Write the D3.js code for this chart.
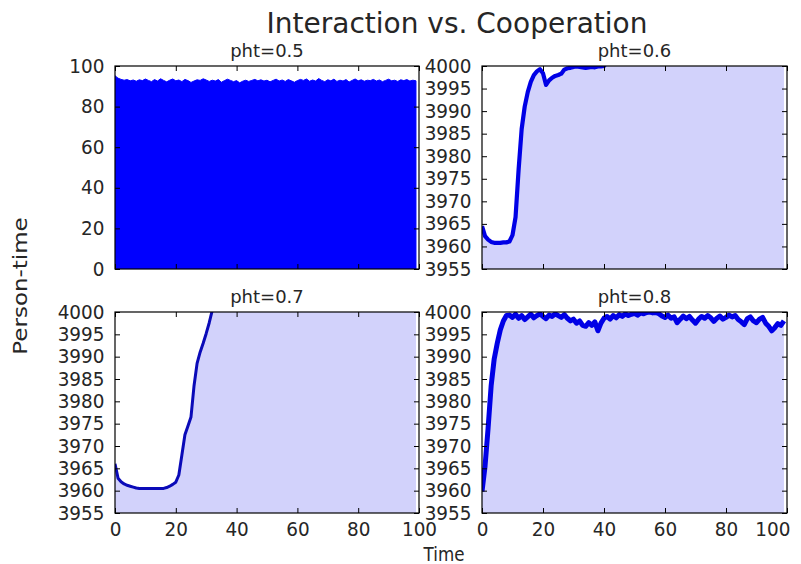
<!DOCTYPE html>
<html>
<head>
<meta charset="utf-8">
<script src="https://cdn.jsdelivr.net/npm/d3@7"></script>
<style>
  body { margin: 0; background: #fff; }
  text { font-family: "DejaVu Sans", sans-serif; fill: #262626; }
</style>
</head>
<body>
<svg id="chart" width="801" height="564"></svg>
<script>
// Time steps of the simulation
const time = d3.range(0, 100);

// Person-time per run, one array per pht setting
const pht05 = [
  95.2, 94.0, 93.4, 93.0, 93.3, 92.7, 93.1, 92.5, 93.2, 92.8,
  93.6, 92.9, 92.3, 93.3, 92.6, 93.7, 92.9, 92.2, 93.0, 93.6,
  92.7, 93.1, 92.3, 93.4, 92.8, 91.9, 92.6, 93.2, 92.9, 93.7,
  93.1, 92.4, 93.0, 92.6, 93.3, 92.0, 92.8, 93.5, 92.9, 92.3,
  92.8, 91.7, 92.5, 93.0, 92.4, 92.9, 93.4, 92.7, 93.2, 92.6,
  93.0, 92.2, 92.9, 93.5, 92.6, 93.1, 92.4, 93.3, 92.7, 92.0,
  92.8, 93.4, 92.9, 93.6, 92.5, 93.1, 92.6, 93.8, 92.9, 92.3,
  93.2, 92.7, 93.5, 92.4, 93.0, 92.6, 93.3, 92.1, 92.9, 93.6,
  92.7, 93.2, 92.5, 93.0, 92.8, 93.4, 92.6, 93.1, 92.3, 92.9,
  93.5, 92.7, 93.0, 92.4, 93.2, 92.8, 93.3, 92.6, 93.0, 92.7
];
const pht06 = [
  3964.5, 3962.3, 3961.5, 3961.0, 3960.8, 3960.8, 3960.8, 3960.9, 3960.9, 3961.1,
  3962.5, 3966.5, 3977.0, 3986.0, 3991.0, 3994.2, 3996.5, 3998.0, 3998.8, 3999.3,
  3998.4, 3995.8, 3996.8, 3997.4, 3997.8, 3998.0, 3998.3, 3999.2, 3999.5, 3999.6,
  3999.8, 3999.9, 3999.8, 3999.7, 3999.6, 3999.7, 3999.8, 3999.7, 3999.9, 3999.9,
  4000.0, 4001.0, 4001.0, 4001.0, 4001.0, 4001.0, 4001.0, 4001.0, 4001.0, 4001.0,
  4001.0, 4001.0, 4001.0, 4001.0, 4001.0, 4001.0, 4001.0, 4001.0, 4001.0, 4001.0,
  4001.0, 4001.0, 4001.0, 4001.0, 4001.0, 4001.0, 4001.0, 4001.0, 4001.0, 4001.0,
  4001.0, 4001.0, 4001.0, 4001.0, 4001.0, 4001.0, 4001.0, 4001.0, 4001.0, 4001.0,
  4001.0, 4001.0, 4001.0, 4001.0, 4001.0, 4001.0, 4001.0, 4001.0, 4001.0, 4001.0,
  4001.0, 4001.0, 4001.0, 4001.0, 4001.0, 4001.0, 4001.0, 4001.0, 4001.0, 4001.0
];
const pht07 = [
  3966.0, 3962.8, 3962.0, 3961.5, 3961.2, 3961.0, 3960.8, 3960.6, 3960.5, 3960.5,
  3960.5, 3960.5, 3960.5, 3960.5, 3960.5, 3960.5, 3960.5, 3960.7, 3961.0, 3961.4,
  3961.9, 3963.5, 3968.0, 3972.5, 3974.5, 3976.5, 3983.5, 3988.5, 3991.0, 3993.0,
  3995.2, 3997.6, 4000.4, 4002.0, 4002.0, 4002.0, 4002.0, 4002.0, 4002.0, 4002.0,
  4002.0, 4002.0, 4002.0, 4002.0, 4002.0, 4002.0, 4002.0, 4002.0, 4002.0, 4002.0,
  4002.0, 4002.0, 4002.0, 4002.0, 4002.0, 4002.0, 4002.0, 4002.0, 4002.0, 4002.0,
  4002.0, 4002.0, 4002.0, 4002.0, 4002.0, 4002.0, 4002.0, 4002.0, 4002.0, 4002.0,
  4002.0, 4002.0, 4002.0, 4002.0, 4002.0, 4002.0, 4002.0, 4002.0, 4002.0, 4002.0,
  4002.0, 4002.0, 4002.0, 4002.0, 4002.0, 4002.0, 4002.0, 4002.0, 4002.0, 4002.0,
  4002.0, 4002.0, 4002.0, 4002.0, 4002.0, 4002.0, 4002.0, 4002.0, 4002.0, 4002.0
];
const pht08 = [
  3959.8, 3965.5, 3974.0, 3983.5, 3989.5, 3993.0, 3996.0, 3998.0, 3999.2, 3999.3,
  3998.8, 3999.5, 3998.6, 3999.2, 3998.3, 3998.9, 3999.5, 3998.7, 3999.2, 3999.6,
  3999.0, 3998.5, 3999.3, 3999.0, 3999.6, 3999.2, 3998.8, 3999.4, 3998.6, 3998.0,
  3998.4, 3997.5, 3998.0, 3997.0, 3996.8, 3997.6, 3997.0, 3997.8, 3995.8, 3997.5,
  3998.6, 3999.0, 3998.4, 3999.2, 3998.7, 3999.4, 3999.0, 3999.6, 3999.2, 3999.5,
  3999.7, 3999.3, 3999.8, 3999.6, 3999.9, 4000.0, 3999.8, 3999.9, 3999.6, 3999.1,
  3998.8, 3999.3, 3998.6, 3998.9, 3997.6, 3998.4, 3999.1, 3998.5, 3999.0, 3998.2,
  3997.5, 3998.4, 3999.0, 3998.6, 3999.2, 3998.7, 3997.9, 3998.6, 3999.1, 3998.4,
  3998.8, 3999.3, 3998.9, 3999.2, 3998.3, 3997.8, 3997.2, 3998.5, 3998.9, 3998.0,
  3997.6, 3998.4, 3998.8, 3997.5, 3996.8, 3995.8, 3996.5, 3997.4, 3997.0, 3998.0
];

// Axis ticks
const xTicks = [0, 20, 40, 60, 80, 100];
const yTicksLow = [0, 20, 40, 60, 80, 100];
const yTicksHigh = [3955, 3960, 3965, 3970, 3975, 3980, 3985, 3990, 3995, 4000];

const titles = ["pht=0.5", "pht=0.6", "pht=0.7", "pht=0.8"];
const mainTitle = "Interaction vs. Cooperation";
const xLabel = "Time";
const yLabel = "Person-time";

const svg = d3.select("#chart");

const panels = [
  { title: titles[0], values: pht05, yDomain: [0, 100], yTicks: yTicksLow,
    box: { x: 115, y: 66, w: 304, h: 203 }, fill: "#0000ff", solid: true, xLabels: false },
  { title: titles[1], values: pht06, yDomain: [3955, 4000], yTicks: yTicksHigh,
    box: { x: 482, y: 66, w: 305, h: 203 }, fill: "#d2d2fb", lineW: 4.2, lineC: "#0000e6", xLabels: false },
  { title: titles[2], values: pht07, yDomain: [3955, 4000], yTicks: yTicksHigh,
    box: { x: 115, y: 312, w: 304, h: 201 }, fill: "#d2d2fb", lineW: 3, lineC: "#0a0ab8", xLabels: true },
  { title: titles[3], values: pht08, yDomain: [3955, 4000], yTicks: yTicksHigh,
    box: { x: 482, y: 312, w: 305, h: 201 }, fill: "#d2d2fb", lineW: 5, lineC: "#0000e6", xLabels: true, lastLabelEnd: true }
];

// slightly narrowed glyphs for tick labels
const tickFont = 19;
const tickScale = 0.97;

function squeeze(sel) {
  sel.each(function () {
    const t = d3.select(this);
    const x0 = +t.attr("x") || 0;
    t.attr("x", x0 / tickScale).attr("transform", `scale(${tickScale},1)`);
  });
}

panels.forEach((p, i) => {
  const b = p.box;
  const g = svg.append("g").attr("transform", `translate(${b.x},${b.y})`);
  const x = d3.scaleLinear().domain([0, 100]).range([0, b.w]);
  const y = d3.scaleLinear().domain(p.yDomain).range([b.h, 0]);

  const clipId = "clip" + i;
  g.append("clipPath").attr("id", clipId)
    .append("rect").attr("width", b.w).attr("height", b.h);

  const plot = g.append("g").attr("clip-path", `url(#${clipId})`);

  const area = d3.area()
    .x((d, k) => x(time[k]))
    .y0(b.h)
    .y1(d => y(d));
  plot.append("path").datum(p.values)
    .attr("d", area)
    .attr("fill", p.fill)
    .attr("stroke", p.solid ? "#0000ff" : "none")
    .attr("stroke-width", p.solid ? 1 : 0);

  if (!p.solid) {
    const line = d3.line().x((d, k) => x(time[k])).y(d => y(d));
    plot.append("path").datum(p.values)
      .attr("d", line)
      .attr("fill", "none")
      .attr("stroke", p.lineC)
      .attr("stroke-width", p.lineW)
      .attr("stroke-linejoin", "round");
  }

  // inward ticks on all four sides
  const yl = g.append("g").call(d3.axisLeft(y).tickValues(p.yTicks)
    .tickFormat(d3.format("d")).tickSize(-5).tickPadding(10.5));
  g.append("g").attr("transform", `translate(${b.w},0)`)
    .call(d3.axisRight(y).tickValues(p.yTicks).tickSize(-5).tickFormat(""));
  const xb = g.append("g").attr("transform", `translate(0,${b.h})`)
    .call(d3.axisBottom(x).tickValues(xTicks).tickSize(-5).tickPadding(10)
      .tickFormat(p.xLabels ? d3.format("d") : ""));
  g.append("g").call(d3.axisTop(x).tickValues(xTicks).tickSize(-5).tickFormat(""));

  g.selectAll(".domain").remove();
  g.selectAll(".tick line").attr("stroke", "#000").attr("stroke-width", 1);
  g.selectAll(".tick text")
    .style("font-family", "'DejaVu Sans', sans-serif")
    .style("font-size", tickFont + "px")
    .attr("fill", "#262626");
  squeeze(yl.selectAll(".tick text"));
  squeeze(xb.selectAll(".tick text"));

  // keep the rightmost time label inside the figure
  if (p.lastLabelEnd) {
    xb.selectAll(".tick text").filter(d => d === 100)
      .attr("text-anchor", "end")
      .attr("x", 3 / tickScale);
  }

  g.append("rect").attr("width", b.w).attr("height", b.h)
    .attr("fill", "none").attr("stroke", "#000").attr("stroke-width", 1.2);

  g.append("text")
    .attr("x", b.w / 2).attr("y", -9)
    .attr("text-anchor", "middle")
    .style("font-size", "18px")
    .text(p.title);
});

svg.append("text")
  .attr("x", 457).attr("y", 33)
  .attr("text-anchor", "middle")
  .style("font-size", "28px")
  .text(mainTitle);

svg.append("text")
  .attr("transform", "translate(444,561) scale(0.88,1)")
  .attr("text-anchor", "middle")
  .style("font-size", "19px")
  .text(xLabel);

svg.append("text")
  .attr("transform", "translate(27,286) scale(0.88,1) rotate(-90)")
  .attr("text-anchor", "middle")
  .style("font-size", "23px")
  .text(yLabel);
</script>
</body>
</html>
